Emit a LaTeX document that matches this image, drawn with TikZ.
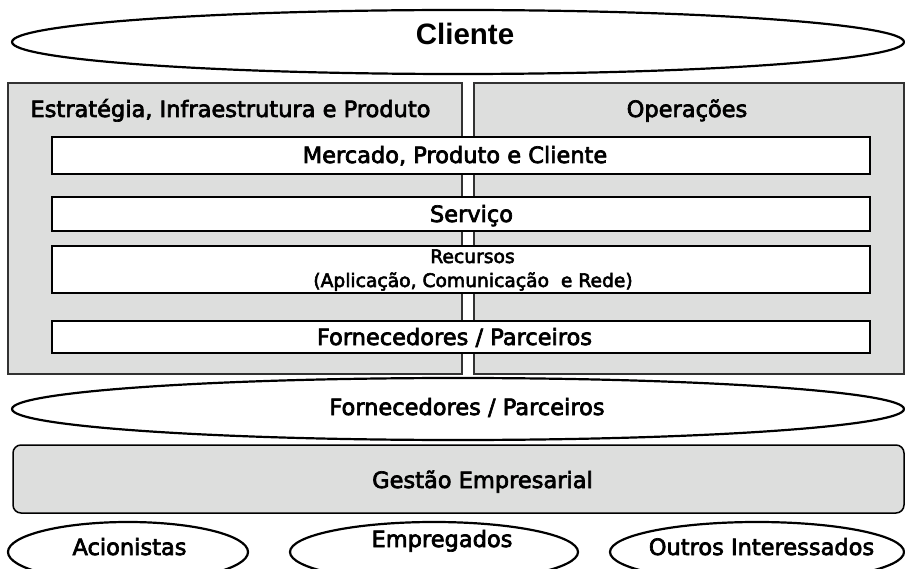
\documentclass[tikz,border=0pt]{standalone}
\usepackage{fontspec}
\setmainfont{DejaVu Sans}[FakeBold=3]
\newfontfamily\clifont{Liberation Sans}
\usetikzlibrary{shapes.geometric}
\definecolor{panelgray}{RGB}{221,222,221}
\definecolor{panelline}{RGB}{50,50,50}
\begin{document}
\begin{tikzpicture}[x=1pt,y=-1pt,
  box/.style={rectangle, inner sep=0pt, outer sep=0pt},
  panel/.style={box, fill=panelgray, draw=panelline, line width=1.5pt},
  bar/.style={box, fill=white, draw=black, line width=2.5pt},
  oval/.style={ellipse, inner sep=0pt, outer sep=0pt, fill=white, draw=black, line width=2.2pt},
  txt/.style={anchor=base, inner sep=0pt, font=\fontsize{22.5}{27}\selectfont},
  smalltxt/.style={anchor=base, inner sep=0pt, font=\fontsize{18.7}{22}\selectfont},
  clitxt/.style={anchor=base, inner sep=0pt, font=\clifont\bfseries\fontsize{29.5}{33}\selectfont}]
\clip (0,0) rectangle (905,569);
\fill[white] (0,0) rectangle (905,569);

% Cliente
\node[oval, minimum width=892pt, minimum height=64pt] (cli) at (458,42) {};
\node[clitxt] (clit) at (465,44.5) {Cliente};

% panels
\node[panel, minimum width=454pt, minimum height=291pt] (left) at (235,228.5) {};
\node[panel, minimum width=430pt, minimum height=291pt] (right) at (689,228.5) {};
\node[txt] (lefth) at (230.5,117) {Estratégia, Infraestrutura e Produto};
\node[txt] (righth) at (687,117) {Operações};

% bars
\node[bar, minimum width=818pt, minimum height=37pt] (merc) at (461,155.5) {};
\node[txt] (merct) at (455,163) {Mercado, Produto e Cliente};
\node[bar, minimum width=818pt, minimum height=34pt] (serv) at (461,214) {};
\node[txt] (servt) at (471.5,222) {Serviço};
\node[bar, minimum width=818pt, minimum height=47pt] (rec) at (461,269.5) {};
\node[smalltxt] (rect1) at (472.5,263) {Recursos};
\node[smalltxt] (rect2) at (473,287) {(Aplicação, Comunicação~~e Rede)};
\node[bar, minimum width=818pt, minimum height=32pt] (forn) at (461,337) {};
\node[txt] (fornt) at (454.5,345) {Fornecedores / Parceiros};

% Fornecedores ellipse
\node[oval, minimum width=892pt, minimum height=62pt] (forne) at (458,409) {};
\node[txt] (fornet) at (467,415) {Fornecedores / Parceiros};

% Gestao
\node[box, fill=panelgray, draw=black, line width=1.5pt, rounded corners=8pt,
  minimum width=891pt, minimum height=68pt] (gest) at (458.5,479) {};
\node[txt] (gestt) at (482.5,488) {Gestão Empresarial};

% bottom ellipses
\node[oval, minimum width=240pt, minimum height=60pt] (acio) at (128,552) {};
\node[txt] (aciot) at (129.5,555) {Acionistas};
\node[oval, minimum width=288pt, minimum height=60pt] (empr) at (434,552) {};
\node[txt] (emprt) at (442,547) {Empregados};
\node[oval, minimum width=294pt, minimum height=60pt] (outr) at (757,552) {};
\node[txt] (outrt) at (761.5,555) {Outros Interessados};
\end{tikzpicture}
\end{document}
